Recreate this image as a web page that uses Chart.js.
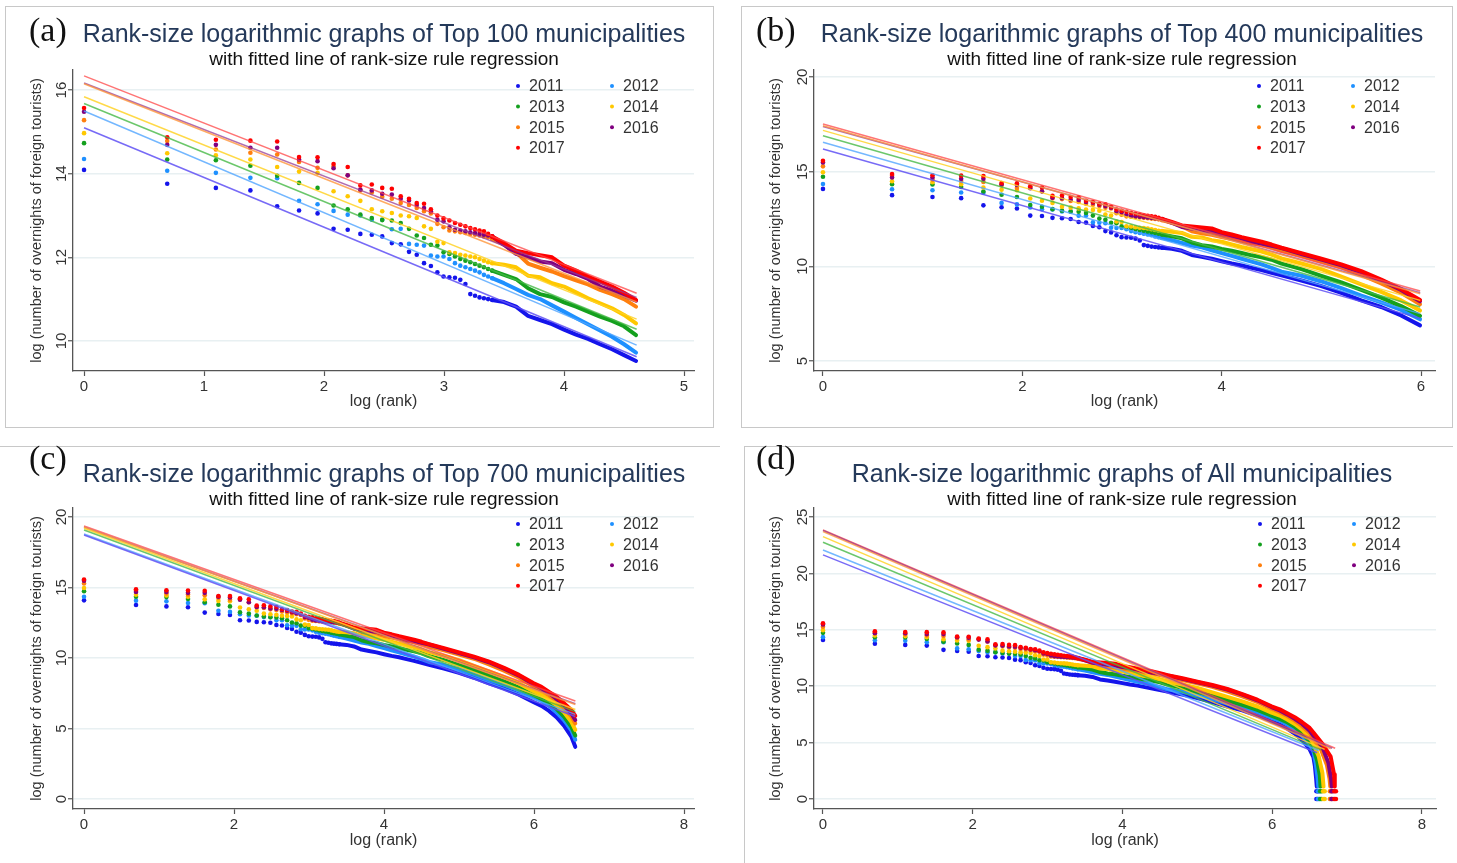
<!DOCTYPE html>
<html>
<head>
<meta charset="utf-8">
<script src="https://cdn.jsdelivr.net/npm/chart.js@4.4.1/dist/chart.umd.min.js"></script>
<style>
  body { margin: 0; background: #fff; width: 1457px; height: 863px; overflow: hidden; position: relative;
         font-family: "Liberation Sans", Arial, sans-serif; }
  canvas { position: absolute; }
  .tag { position: absolute; line-height: 1; font-family: "Liberation Serif", "DejaVu Serif", serif; font-size: 34px; color: #111; }
  .ttl { position: absolute; line-height: 1; transform: translateX(-50%); white-space: nowrap; font-size: 25px; color: #24395a; }
  .sub { position: absolute; line-height: 1; transform: translateX(-50%); white-space: nowrap; font-size: 19px; color: #111; }
  .frame { position: absolute; border: 0 solid #c8c8c8; }
</style>
</head>
<body>
<div class="frame" style="left:5px;top:6px;width:707px;height:420px;border-width:1px;"></div>
<div class="frame" style="left:741px;top:6px;width:710px;height:420px;border-width:1px;"></div>
<div class="frame" style="left:0px;top:446px;width:720px;height:417px;border-top-width:1px;"></div>
<div class="frame" style="left:744px;top:446px;width:708px;height:417px;border-top-width:1px;border-left-width:1px;"></div>

<canvas id="panelA" width="708" height="420" style="left:5px;top:7px"></canvas>
<canvas id="panelB" width="711" height="420" style="left:741px;top:7px"></canvas>
<canvas id="panelC" width="720" height="416" style="left:0px;top:447px"></canvas>
<canvas id="panelD" width="713" height="416" style="left:744px;top:447px"></canvas>

<div class="tag" style="left:29px;top:13px">(a)</div>
<div class="ttl" style="left:384px;top:21px">Rank-size logarithmic graphs of Top 100 municipalities</div>
<div class="sub" style="left:384px;top:49px">with fitted line of rank-size rule regression</div>

<div class="tag" style="left:756px;top:13px">(b)</div>
<div class="ttl" style="left:1122px;top:21px">Rank-size logarithmic graphs of Top 400 municipalities</div>
<div class="sub" style="left:1122px;top:49px">with fitted line of rank-size rule regression</div>

<div class="tag" style="left:29px;top:441px">(c)</div>
<div class="ttl" style="left:384px;top:461px">Rank-size logarithmic graphs of Top 700 municipalities</div>
<div class="sub" style="left:384px;top:489px">with fitted line of rank-size rule regression</div>

<div class="tag" style="left:756px;top:441px">(d)</div>
<div class="ttl" style="left:1122px;top:461px">Rank-size logarithmic graphs of All municipalities</div>
<div class="sub" style="left:1122px;top:489px">with fitted line of rank-size rule regression</div>

<script>
// years and colours
const years = ['2011', '2012', '2013', '2014', '2015', '2016', '2017'];
const yearColors = ['#1414eb', '#1e90ff', '#14a01e', '#ffc800', '#ff7f0e', '#800080', '#ff0000'];
const fitColors = ['rgba(95,80,245,0.85)', 'rgba(80,165,255,0.8)', 'rgba(70,185,70,0.8)', 'rgba(255,210,40,0.85)',
                   'rgba(255,150,60,0.8)', 'rgba(150,60,150,0.75)', 'rgba(255,70,70,0.75)'];

// ranks 1..30 drawn as single dots (log of overnights)
const topRanks = [1, 2, 3, 4, 5, 6, 7, 8, 9, 10, 11, 12, 13, 14, 15, 16, 17, 18, 19, 20,
                  21, 22, 23, 24, 25, 26, 27, 28, 29, 30];
const top2011 = [14.09, 13.76, 13.66, 13.60, 13.22, 13.12, 13.05, 12.68, 12.66, 12.56, 12.54, 12.50, 12.34, 12.31, 12.13, 12.06, 11.86, 11.79, 11.64, 11.54,
                 11.52, 11.51, 11.46, 11.36, 11.12, 11.08, 11.04, 11.02, 11.00, 10.98];
const top2012 = [14.35, 14.07, 14.02, 13.90, 13.89, 13.35, 13.27, 13.11, 13.02, 13.00, 12.90, 12.90, 12.67, 12.68, 12.32, 12.30, 12.28, 12.04, 12.02, 12.02,
                 11.96, 11.86, 11.80, 11.76, 11.72, 11.68, 11.64, 11.58, 11.54, 11.50];
const top2013 = [14.73, 14.34, 14.32, 14.19, 13.95, 13.78, 13.66, 13.24, 13.15, 13.02, 12.94, 12.89, 12.88, 12.82, 12.68, 12.52, 12.46, 12.30, 12.28, 12.12,
                 12.08, 12.02, 11.96, 11.92, 11.88, 11.84, 11.80, 11.76, 11.72, 11.68];
const top2014 = [14.97, 14.49, 14.44, 14.34, 14.16, 14.05, 14.02, 13.58, 13.46, 13.35, 13.15, 13.10, 13.06, 13.00, 12.98, 12.94, 12.74, 12.68, 12.37, 12.34,
                 12.12, 12.10, 12.06, 12.04, 12.02, 12.00, 11.96, 11.92, 11.88, 11.86];
const top2015 = [15.28, 14.78, 14.58, 14.50, 14.46, 14.28, 14.14, 14.17, 13.96, 13.60, 13.55, 13.45, 13.40, 13.30, 13.25, 13.18, 13.10, 13.05, 12.80, 12.72,
                 12.64, 12.62, 12.60, 12.58, 12.56, 12.54, 12.52, 12.50, 12.48, 12.44];
const top2016 = [15.48, 14.69, 14.69, 14.62, 14.62, 14.34, 14.30, 14.13, 13.96, 13.62, 13.60, 13.52, 13.50, 13.40, 13.36, 13.25, 13.18, 13.10, 12.90, 12.86,
                 12.72, 12.66, 12.64, 12.62, 12.60, 12.58, 12.56, 12.54, 12.52, 12.50];
const top2017 = [15.57, 14.87, 14.81, 14.79, 14.77, 14.40, 14.39, 14.23, 14.16, 13.72, 13.74, 13.66, 13.64, 13.46, 13.40, 13.30, 13.28, 13.15, 13.00, 12.93,
                 12.88, 12.82, 12.78, 12.74, 12.70, 12.67, 12.64, 12.62, 12.56, 12.50];

// dense part, sampled along log(rank)
const curveLogRank = [3.4, 3.5, 3.6, 3.7, 3.8, 3.9, 4.0, 4.1, 4.2, 4.3, 4.4, 4.5, 4.6,
                      4.8, 5.0, 5.2, 5.4, 5.6, 5.8, 5.99, 6.1, 6.2, 6.3, 6.4, 6.5, 6.55];
const curve2011 = [10.98, 10.93, 10.82, 10.60, 10.50, 10.40, 10.27, 10.15, 10.05, 9.92, 9.80, 9.66, 9.52,
                   9.25, 8.95, 8.60, 8.20, 7.85, 7.40, 6.88, 6.60, 6.25, 5.80, 5.20, 4.40, 3.70];
const curve2012 = [11.50, 11.38, 11.24, 11.10, 11.00, 10.85, 10.70, 10.55, 10.40, 10.25, 10.10, 9.92, 9.72,
                   9.50, 9.20, 8.85, 8.45, 8.10, 7.70, 7.20, 6.95, 6.60, 6.15, 5.60, 4.85, 4.20];
const curve2013 = [11.68, 11.58, 11.48, 11.26, 11.12, 11.05, 10.92, 10.82, 10.70, 10.58, 10.48, 10.35, 10.14,
                   9.85, 9.50, 9.15, 8.75, 8.35, 7.90, 7.39, 7.10, 6.80, 6.40, 5.85, 5.10, 4.50];
const curve2014 = [11.86, 11.82, 11.76, 11.56, 11.52, 11.38, 11.30, 11.16, 11.02, 10.90, 10.78, 10.62, 10.42,
                   10.15, 9.85, 9.45, 9.05, 8.65, 8.20, 7.66, 7.40, 7.05, 6.65, 6.15, 5.45, 4.90];
const curve2015 = [12.44, 12.30, 12.12, 11.85, 11.75, 11.66, 11.55, 11.45, 11.35, 11.22, 11.12, 11.00, 10.82,
                   10.55, 10.25, 9.95, 9.55, 9.10, 8.60, 8.00, 7.70, 7.35, 6.95, 6.45, 5.85, 5.35];
const curve2016 = [12.50, 12.30, 12.08, 12.00, 11.90, 11.86, 11.70, 11.60, 11.48, 11.30, 11.20, 11.08, 10.96,
                   10.65, 10.35, 10.05, 9.70, 9.25, 8.75, 8.15, 7.85, 7.50, 7.10, 6.65, 6.05, 5.60];
const curve2017 = [12.50, 12.34, 12.16, 12.10, 12.05, 12.00, 11.80, 11.68, 11.54, 11.42, 11.30, 11.15, 10.98,
                   10.70, 10.40, 10.10, 9.75, 9.30, 8.80, 8.22, 7.95, 7.60, 7.25, 6.80, 6.30, 5.90];

// tail beyond rank 700, per year
const tailX2011 = [6.57, 6.585, 6.595];          const tailY2011 = [2.9, 1.9, 1.1];
const tailX2012 = [6.58, 6.605, 6.615];          const tailY2012 = [3.2, 1.9, 1.1];
const tailX2013 = [6.60, 6.635, 6.645];          const tailY2013 = [3.4, 2.1, 1.1];
const tailX2014 = [6.62, 6.67, 6.685];           const tailY2014 = [3.8, 2.3, 1.1];
const tailX2015 = [6.65, 6.73, 6.765, 6.775];    const tailY2015 = [4.4, 3.0, 1.8, 1.1];
const tailX2016 = [6.67, 6.75, 6.785, 6.795];    const tailY2016 = [4.6, 3.2, 1.8, 1.1];
const tailX2017 = [6.67, 6.78, 6.825, 6.835];    const tailY2017 = [4.9, 3.75, 2.2, 1.1];
// last municipalities (2 and 1 overnights)
const bottomValues = [0.69, 0.69, 0, 0];
const bottomX2011 = [6.59, 6.61, 6.59, 6.61];
const bottomX2012 = [6.61, 6.63, 6.61, 6.63];
const bottomX2013 = [6.64, 6.66, 6.64, 6.66];
const bottomX2014 = [6.68, 6.70, 6.68, 6.70];
const bottomX2015 = [6.77, 6.79, 6.77, 6.79];
const bottomX2016 = [6.79, 6.81, 6.79, 6.81];
const bottomX2017 = [6.83, 6.85, 6.83, 6.85];

// fitted lines: value at log(rank)=0 and at the last rank of each panel
const fitStartA = [15.10, 15.50, 15.68, 15.84, 16.15, 16.17, 16.34];
const fitEndA   = [9.62, 9.90, 10.28, 10.52, 10.93, 11.04, 11.14];
const fitStartB = [16.20, 16.55, 16.90, 17.18, 17.43, 17.39, 17.52];
const fitEndB   = [7.25, 7.50, 7.85, 8.20, 8.55, 8.60, 8.70];
const fitStartC = [18.72, 18.80, 19.08, 19.20, 19.27, 19.27, 19.36];
const fitEndC   = [5.85, 6.00, 6.20, 6.35, 6.70, 6.75, 6.95];
const fitStartD = [21.64, 22.08, 22.76, 23.26, 23.70, 23.80, 23.85];
const fitEndD   = [4.10, 4.30, 4.35, 4.40, 4.45, 4.50, 4.50];
const fitEndXD  = [6.60, 6.62, 6.65, 6.70, 6.78, 6.80, 6.84];

// axis ticks
const xTicksA = [0, 1, 2, 3, 4, 5];   const yTicksA = [10, 12, 14, 16];
const xTicksB = [0, 2, 4, 6];         const yTicksB = [5, 10, 15, 20];
const xTicksC = [0, 2, 4, 6, 8];      const yTicksC = [0, 5, 10, 15, 20];
const xTicksD = [0, 2, 4, 6, 8];      const yTicksD = [0, 5, 10, 15, 20, 25];

const topValues = [top2011, top2012, top2013, top2014, top2015, top2016, top2017];
const curveValues = [curve2011, curve2012, curve2013, curve2014, curve2015, curve2016, curve2017];
const tailX = [tailX2011, tailX2012, tailX2013, tailX2014, tailX2015, tailX2016, tailX2017];
const tailY = [tailY2011, tailY2012, tailY2013, tailY2014, tailY2015, tailY2016, tailY2017];
const bottomX = [bottomX2011, bottomX2012, bottomX2013, bottomX2014, bottomX2015, bottomX2016, bottomX2017];

const FONT = '"Liberation Sans", Arial, sans-serif';

const legendPlugin = {
    id: 'yearLegend',
    afterDraw(chart) {
        const { ctx, chartArea } = chart;
        ctx.save();
        ctx.font = '16px ' + FONT;
        ctx.textBaseline = 'middle';
        years.forEach((yr, i) => {
            const col = i % 2;
            const row = Math.floor(i / 2);
            const x = chartArea.right - 176 + col * 94;
            const y = chartArea.top + 16 + row * 20.6;
            ctx.fillStyle = yearColors[i];
            ctx.beginPath();
            ctx.arc(x, y, 2, 0, Math.PI * 2);
            ctx.fill();
            ctx.fillStyle = '#333';
            ctx.fillText(yr, x + 11, y + 1);
        });
        ctx.restore();
    }
};

function buildDatasets(limit, fitStart, fitEnd, fitEndX) {
    const sets = [];
    years.forEach((yr, i) => {
        sets.push({
            label: yr + ' fit',
            data: [{ x: 0, y: fitStart[i] }, { x: fitEndX[i], y: fitEnd[i] }],
            showLine: true, borderColor: fitColors[i], borderWidth: 1.5, pointRadius: 0, order: 0
        });
        const dots = topRanks.map((r, k) => ({ x: Math.log(r), y: topValues[i][k] }));
        bottomX[i].forEach((x, k) => dots.push({ x: x, y: bottomValues[k] }));
        sets.push({
            label: yr,
            data: dots.filter(p => p.x <= limit),
            showLine: false, pointRadius: 2.3, pointBorderWidth: 0,
            backgroundColor: yearColors[i], borderColor: yearColors[i], order: 7 - i + 1
        });
        const curve = curveLogRank.map((x, k) => ({ x: x, y: curveValues[i][k] }));
        tailX[i].forEach((x, k) => curve.push({ x: x, y: tailY[i][k] }));
        sets.push({
            label: yr + ' curve',
            data: curve.filter(p => p.x <= limit),
            showLine: true, borderColor: yearColors[i], borderWidth: 4, pointRadius: 0,
            borderJoinStyle: 'round', borderCapStyle: 'round', order: 7 - i + 1
        });
    });
    return sets;
}

function makePanel(id, p) {
    const ctx = document.getElementById(id).getContext('2d');
    return new Chart(ctx, {
        type: 'scatter',
        data: { datasets: buildDatasets(p.limit, p.fitStart, p.fitEnd, p.fitEndX) },
        options: {
            responsive: false,
            animation: false,
            layout: { padding: p.padding },
            plugins: { legend: { display: false }, tooltip: { enabled: false } },
            scales: {
                x: {
                    type: 'linear', min: p.xMin, max: p.xMax,
                    afterBuildTicks: s => { s.ticks = p.xTicks.map(v => ({ value: v })); },
                    afterFit: s => { s.height = p.xHeight; },
                    grid: { drawOnChartArea: false, drawTicks: true, tickLength: 5, tickColor: '#555', tickWidth: 1.2 },
                    border: { display: true, color: '#555', width: 1.3 },
                    ticks: { color: '#333', font: { family: FONT, size: 15 }, padding: 2, maxRotation: 0 },
                    title: { display: true, text: 'log (rank)', color: '#333', font: { family: FONT, size: 16 } }
                },
                y: {
                    type: 'linear', min: p.yMin, max: p.yMax,
                    afterBuildTicks: s => { s.ticks = p.yTicks.map(v => ({ value: v })); },
                    afterFit: s => { s.width = p.yWidth; },
                    grid: { color: '#e8f0f2', lineWidth: 1.5, drawTicks: true, tickLength: 5, tickColor: '#555', tickWidth: 1.2 },
                    border: { display: true, color: '#555', width: 1.3 },
                    ticks: { color: '#333', font: { family: FONT, size: 15 }, padding: -2, minRotation: 90, maxRotation: 90, crossAlign: 'center' },
                    title: { display: true, text: 'log (number of overnights of foreign tourists)', color: '#333', font: { family: FONT, size: 14.5 } }
                }
            }
        },
        plugins: [legendPlugin]
    });
}

const allA = years.map(() => Math.log(100));
const allB = years.map(() => Math.log(400));
const allC = years.map(() => Math.log(700));

makePanel('panelA', {
    limit: Math.log(100) + 1e-6, fitStart: fitStartA, fitEnd: fitEndA, fitEndX: allA,
    padding: { left: 19, top: 63, right: 19, bottom: 12 }, yWidth: 49, xHeight: 44,
    xMin: -0.092, xMax: 5.083, yMin: 9.28, yMax: 16.48, xTicks: xTicksA, yTicks: yTicksA
});
makePanel('panelB', {
    limit: Math.log(400) + 1e-6, fitStart: fitStartB, fitEnd: fitEndB, fitEndX: allB,
    padding: { left: 22, top: 63, right: 17, bottom: 12 }, yWidth: 51, xHeight: 44,
    xMin: -0.09, xMax: 6.14, yMin: 4.47, yMax: 20.37, xTicks: xTicksB, yTicks: yTicksB
});
makePanel('panelC', {
    limit: Math.log(700) + 1e-6, fitStart: fitStartC, fitEnd: fitEndC, fitEndX: allC,
    padding: { left: 24, top: 61, right: 26, bottom: 9 }, yWidth: 49, xHeight: 45,
    xMin: -0.147, xMax: 8.133, yMin: -0.71, yMax: 20.64, xTicks: xTicksC, yTicks: yTicksC
});
makePanel('panelD', {
    limit: Infinity, fitStart: fitStartD, fitEnd: fitEndD, fitEndX: fitEndXD,
    padding: { left: 19, top: 61, right: 21, bottom: 9 }, yWidth: 51, xHeight: 45,
    xMin: -0.12, xMax: 8.187, yMin: -0.89, yMax: 25.8, xTicks: xTicksD, yTicks: yTicksD
});
</script>
</body>
</html>
